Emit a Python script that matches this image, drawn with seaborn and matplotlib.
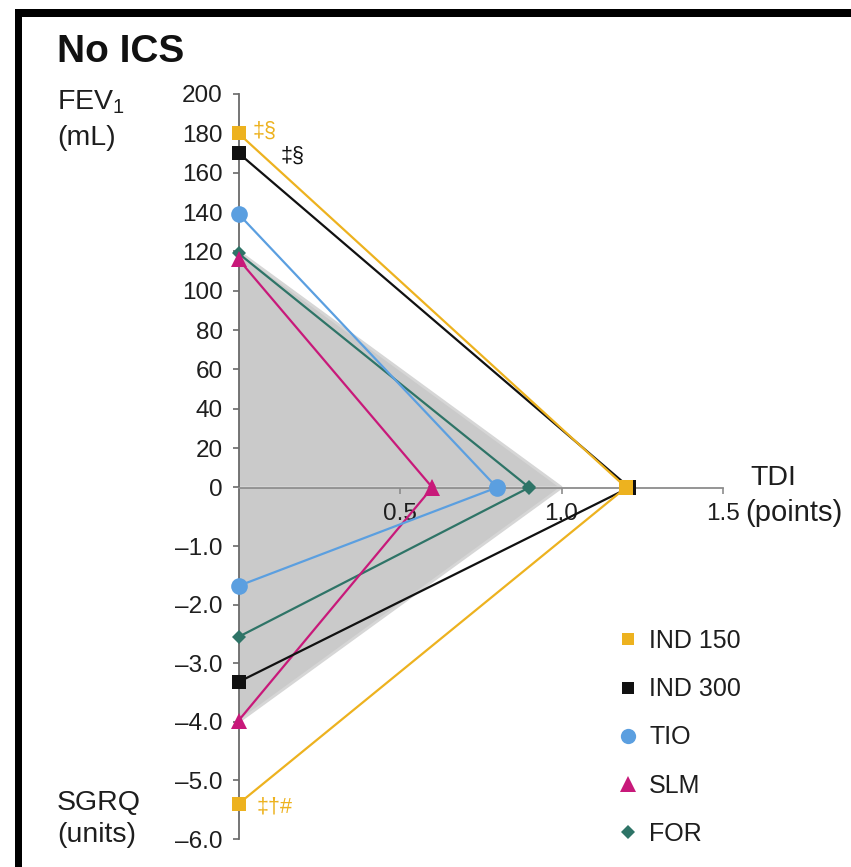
import matplotlib
matplotlib.use("Agg")
import matplotlib.pyplot as plt
from matplotlib.lines import Line2D
from matplotlib.patches import Rectangle
import seaborn as sns

# ---------------- data ----------------
treatments = ["IND 150", "IND 300", "TIO", "SLM", "FOR"]
fev1_ml = [180, 170, 139, 116, 119]
tdi_points = [1.20, 1.21, 0.80, 0.60, 0.90]
sgrq_units = [-5.40, -3.32, -1.68, -3.98, -2.55]

mcid_fev1 = 120
mcid_tdi = 1.0
mcid_sgrq = -4.0

fev1_ticks = [0, 20, 40, 60, 80, 100, 120, 140, 160, 180, 200]
sgrq_ticks = [-1.0, -2.0, -3.0, -4.0, -5.0, -6.0]
tdi_ticks = [0.5, 1.0, 1.5]
tdi_tick_labels = ["0.5", "1.0", "1.5"]

annot_texts = ["‡§", "‡§", "‡†#"]
annot_treatments = ["IND 150", "IND 300", "IND 150"]
annot_axes = ["FEV1", "FEV1", "SGRQ"]

# ---------------- style ----------------
sns.set_theme(style="white")
plt.rcParams["font.family"] = ["Liberation Sans", "DejaVu Sans"]
plt.rcParams["mathtext.default"] = "regular"

colors = {"IND 150": "#EDB21F", "IND 300": "#111111", "TIO": "#5B9FE0",
          "SLM": "#C8197A", "FOR": "#2E7467"}
markers = {"IND 150": "s", "IND 300": "s", "TIO": "o", "SLM": "^", "FOR": "D"}
msize = {"s": 10, "o": 12, "^": 11, "D": 7.5}
leg_msize = {"s": 9, "o": 11, "^": 11, "D": 7}
txt_color = "#1e1e1e"
axis_color = "#6a6a6a"

W, H = 851, 867
fig = plt.figure(figsize=(W / 100, H / 100), dpi=100)
fig.patch.set_facecolor("white")


def fx(px):
    return px / W


def fy(py):
    return 1 - py / H


x0 = 238.5      # pixel of TDI = 0 (vertical axis)
zero_y = 487.5  # pixel of FEV1 = 0 / SGRQ = 0
top_y = 94      # pixel of FEV1 = 200
bot_y = 839     # pixel of SGRQ = -6
px_per_tdi = 323
xmax = (W - x0) / px_per_tdi

ax_top = fig.add_axes([fx(x0), fy(zero_y), 1 - fx(x0), (zero_y - top_y) / H])
ax_bot = fig.add_axes([fx(x0), fy(bot_y), 1 - fx(x0), (bot_y - zero_y) / H])
for ax in (ax_top, ax_bot):
    ax.set_facecolor("none")
    ax.set_xlim(0, xmax)
    ax.set_axisbelow(False)
ax_top.set_ylim(0, 200)
ax_bot.set_ylim(-6, 0)

# MCID shaded region
gray = "#CACACA"
ax_top.fill([0, 0, mcid_tdi], [0, mcid_fev1, 0], facecolor=gray,
            edgecolor="#D6D6D6", lw=2, zorder=0.8)
ax_bot.fill([0, mcid_tdi, 0], [0, 0, mcid_sgrq], facecolor=gray,
            edgecolor="#D6D6D6", lw=2, zorder=0.8)

# treatment triangles
draw_order = ["FOR", "SLM", "TIO", "IND 300", "IND 150"]
for name in draw_order:
    i = treatments.index(name)
    c = colors[name]
    m = markers[name]
    kw = dict(color=c, marker=m, markersize=msize[m], markeredgewidth=0,
              markeredgecolor=c, lw=1.6, sort=False, estimator=None,
              clip_on=False, zorder=3, legend=False)
    sns.lineplot(x=[0, tdi_points[i]], y=[fev1_ml[i], 0], ax=ax_top, **kw)
    sns.lineplot(x=[tdi_points[i], 0], y=[0, sgrq_units[i]], ax=ax_bot, **kw)

# spines
for s in ("top", "right", "bottom"):
    ax_top.spines[s].set_visible(False)
for s in ("top", "right"):
    ax_bot.spines[s].set_visible(False)
for ax in (ax_top, ax_bot):
    ax.spines["left"].set_color(axis_color)
    ax.spines["left"].set_linewidth(1.3)
    ax.spines["left"].set_zorder(2.5)
ax_top.spines["left"].set_bounds(0, 200)
ax_bot.spines["left"].set_bounds(-6, 0)
ax_bot.spines["bottom"].set_position(("data", 0))
ax_bot.spines["bottom"].set_bounds(0, 1.5)
ax_bot.spines["bottom"].set_color("#8c8c8c")
ax_bot.spines["bottom"].set_linewidth(1.3)

# ticks
ax_top.set_xticks([])
ax_top.set_yticks(fev1_ticks)
ax_top.set_yticklabels([str(v) for v in fev1_ticks])
ax_bot.set_yticks(sgrq_ticks)
ax_bot.set_yticklabels([f"{v:.1f}".replace("-", "\u2013") for v in sgrq_ticks])
ax_bot.set_xticks(tdi_ticks)
ax_bot.set_xticklabels(tdi_tick_labels)
for ax in (ax_top, ax_bot):
    ax.tick_params(axis="y", left=True, direction="out", length=4.5, width=1.2,
                   color=axis_color, pad=7, labelsize=17.5, labelcolor=txt_color)
ax_bot.tick_params(axis="x", bottom=True, direction="out", length=4.5, width=1.2,
                   color="#8c8c8c", pad=7, labelsize=17.5, labelcolor=txt_color)
ax_top.grid(False)
ax_bot.grid(False)

# annotations
ann_offsets = [(10.4, 1.4), (30, -2), (13.3, -2)]
for txt, name, axis_name, off in zip(annot_texts, annot_treatments, annot_axes, ann_offsets):
    i = treatments.index(name)
    if axis_name == "FEV1":
        ax, yv = ax_top, fev1_ml[i]
    else:
        ax, yv = ax_bot, sgrq_units[i]
    ax.annotate(txt, xy=(0, yv), xytext=off, textcoords="offset points",
                ha="left", va="center", fontsize=15.5, color=colors[name],
                annotation_clip=False, zorder=4)

# axis titles
lab_fs = 20.5
fig.text(fx(57), fy(62), "No ICS", fontsize=28, fontweight="bold",
         ha="left", va="baseline", color="#111111")
fig.text(fx(57), fy(110), "FEV$_1$", fontsize=lab_fs, ha="left", va="baseline", color=txt_color)
fig.text(fx(57), fy(145), "(mL)", fontsize=lab_fs, ha="left", va="baseline", color=txt_color)
fig.text(fx(57), fy(810), "SGRQ", fontsize=lab_fs, ha="left", va="baseline", color=txt_color)
fig.text(fx(57), fy(842), "(units)", fontsize=lab_fs, ha="left", va="baseline", color=txt_color)
fig.text(fx(750), fy(485), "TDI", fontsize=lab_fs, ha="left", va="baseline", color=txt_color)
fig.text(fx(745), fy(521), "(points)", fontsize=21, ha="left", va="baseline", color=txt_color)

# legend
handles = [Line2D([0], [0], linestyle="none", marker=markers[n], color=colors[n],
                  markersize=leg_msize[markers[n]], markeredgewidth=0)
           for n in treatments]
fig.legend(handles, treatments, loc="upper left", bbox_to_anchor=(fx(618), fy(629)),
           frameon=False, fontsize=18, handlelength=0.8, handletextpad=0.45,
           labelspacing=0.97, borderpad=0, borderaxespad=0, labelcolor=txt_color)

# black frame (left and top edges)
fig.add_artist(Rectangle((fx(15), 0), fx(22) - fx(15), fy(9), transform=fig.transFigure,
                         facecolor="black", edgecolor="none", zorder=10))
fig.add_artist(Rectangle((fx(15), fy(17)), 1 - fx(15), (17 - 9) / H, transform=fig.transFigure,
                         facecolor="black", edgecolor="none", zorder=10))

fig.savefig("out.png", dpi=100)
